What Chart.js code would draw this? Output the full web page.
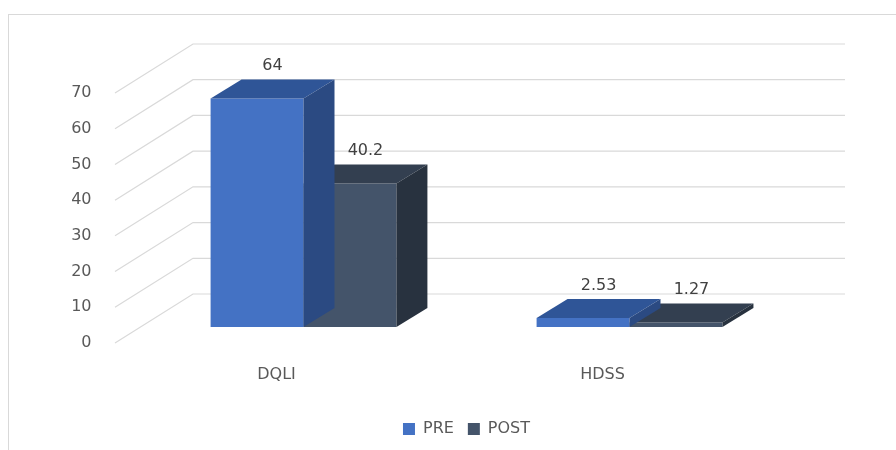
<!DOCTYPE html>
<html>
<head>
<meta charset="utf-8">
<style>
html, body { margin: 0; padding: 0; background: #fff; }
#wrap { width: 896px; height: 450px; }
</style>
</head>
<body>
<div id="wrap"><canvas id="chart"></canvas></div>
<script src="https://cdn.jsdelivr.net/npm/chart.js@4/dist/chart.umd.min.js"></script>
<script>
const categories = ['DQLI', 'HDSS'];
const preValues = [64, 2.53];
const postValues = [40.2, 1.27];
const preLabels = ['64', '2.53'];
const postLabels = ['40.2', '1.27'];

// fake 3d: bar depth, back wall and front plane offsets (relative to bar plane)
const DEPTH = { x: 31, y: 19 };
const WALL = { x: 52.5, y: 33 };
const FRONT = { x: -25.5, y: 16 };
const FONT = { family: 'DejaVu Sans', size: 16 };

const threeD = {
    id: 'threeD',
    beforeDraw(chart) {
        const ctx = chart.ctx;
        ctx.save();
        ctx.strokeStyle = '#d9d9d9';
        ctx.lineWidth = 1;
        ctx.strokeRect(8.5, 14.5, 1000, 1000);
        ctx.restore();
    },
    beforeDatasetsDraw(chart) {
        const { ctx, chartArea, scales: { y } } = chart;
        ctx.save();
        ctx.strokeStyle = '#d9d9d9';
        ctx.lineWidth = 1.2;
        y.ticks.forEach(t => {
            const py = y.getPixelForValue(t.value);
            ctx.beginPath();
            ctx.moveTo(chartArea.left + FRONT.x, py + FRONT.y);
            ctx.lineTo(chartArea.left + WALL.x, py - WALL.y);
            ctx.lineTo(chartArea.right + WALL.x, py - WALL.y);
            ctx.stroke();
        });
        ctx.restore();
    },
    afterDatasetDraw(chart, args) {
        const ctx = chart.ctx;
        const ds = chart.data.datasets[args.index];
        ctx.save();
        args.meta.data.forEach(bar => {
            const { x, y, base, width } = bar.getProps(['x', 'y', 'base', 'width'], true);
            const l = x - width / 2, r = x + width / 2;
            ctx.fillStyle = ds.topColor;
            ctx.beginPath();
            ctx.moveTo(l, y);
            ctx.lineTo(l + DEPTH.x, y - DEPTH.y);
            ctx.lineTo(r + DEPTH.x, y - DEPTH.y);
            ctx.lineTo(r, y);
            ctx.closePath();
            ctx.fill();
            ctx.fillStyle = ds.sideColor;
            ctx.beginPath();
            ctx.moveTo(r, y);
            ctx.lineTo(r + DEPTH.x, y - DEPTH.y);
            ctx.lineTo(r + DEPTH.x, base - DEPTH.y);
            ctx.lineTo(r, base);
            ctx.closePath();
            ctx.fill();
        });
        ctx.restore();
    },
    afterDatasetsDraw(chart) {
        const ctx = chart.ctx;
        ctx.save();
        ctx.fillStyle = '#404040';
        ctx.font = FONT.size + 'px "' + FONT.family + '"';
        ctx.textAlign = 'center';
        ctx.textBaseline = 'middle';
        chart.data.datasets.forEach((ds, i) => {
            chart.getDatasetMeta(i).data.forEach((bar, j) => {
                const { x, y } = bar.getProps(['x', 'y'], true);
                ctx.fillText(ds.valueLabels[j], x + DEPTH.x / 2, y - DEPTH.y / 2 - 23);
            });
        });
        ctx.restore();
    }
};

new Chart(document.getElementById('chart'), {
    type: 'bar',
    data: {
        labels: categories,
        datasets: [{
            label: 'PRE',
            data: preValues,
            valueLabels: preLabels,
            backgroundColor: '#4472c4',
            topColor: '#2f5597',
            sideColor: '#2b4a82',
            categoryPercentage: 0.57,
            barPercentage: 1
        }, {
            label: 'POST',
            data: postValues,
            valueLabels: postLabels,
            backgroundColor: '#44546a',
            topColor: '#333f50',
            sideColor: '#28323f',
            categoryPercentage: 0.57,
            barPercentage: 1
        }]
    },
    options: {
        responsive: true,
        maintainAspectRatio: false,
        animation: false,
        layout: {
            padding: { left: 20, right: 103.5, top: 77, bottom: 3 }
        },
        plugins: {
            tooltip: { enabled: false },
            legend: {
                position: 'bottom',
                fullSize: false,
                labels: {
                    boxWidth: 12,
                    boxHeight: 12,
                    padding: 14,
                    color: '#595959',
                    font: FONT
                }
            }
        },
        scales: {
            x: {
                grid: { display: false, drawTicks: false },
                border: { display: false },
                ticks: {
                    color: '#595959',
                    font: FONT,
                    padding: 38,
                    labelOffset: -27
                },
                afterFit: s => { s.height = 80; }
            },
            y: {
                min: 0,
                max: 70,
                grid: { display: false, drawTicks: false },
                border: { display: false },
                ticks: {
                    stepSize: 10,
                    color: '#595959',
                    font: FONT,
                    padding: 49,
                    labelOffset: 16
                },
                afterFit: s => { s.width = 120.5; }
            }
        }
    },
    plugins: [threeD]
});
</script>
</body>
</html>
